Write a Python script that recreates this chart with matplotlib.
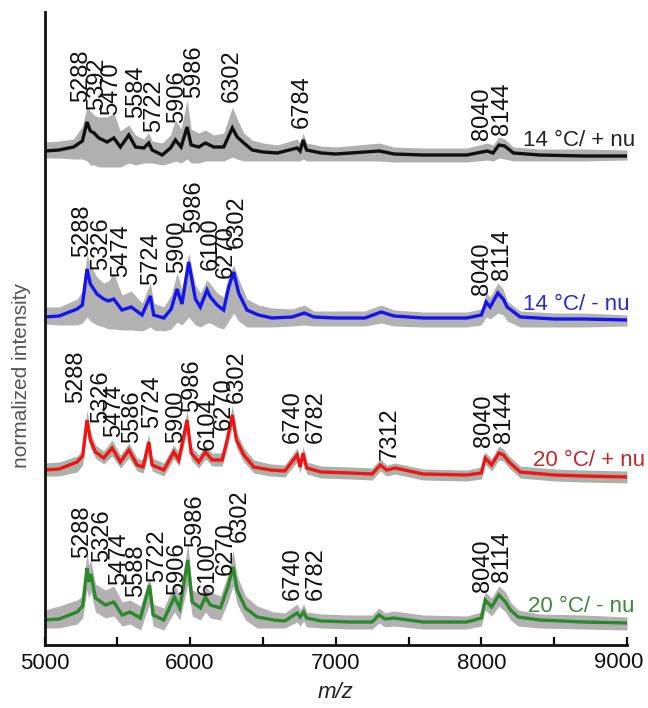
import matplotlib
matplotlib.use('Agg')
import matplotlib.pyplot as plt
from matplotlib.ticker import MultipleLocator

plt.rcParams['font.family'] = ['Liberation Sans', 'DejaVu Sans']

# -----------------------------------------------------------------------------
# 1. data (m/z, height above each trace's baseline)
# -----------------------------------------------------------------------------
black_mz = [5000, 5100, 5200, 5260, 5292, 5315, 5340, 5373, 5430, 5476,
            5521, 5579, 5625, 5682, 5716, 5739, 5808, 5865, 5899, 5938,
            5979, 6007, 6059, 6105, 6162, 6231, 6290, 6323, 6369, 6426,
            6500, 6600, 6735, 6755, 6776, 6800, 6900, 7000, 7300, 7400,
            7600, 7900, 8040, 8080, 8120, 8160, 8220, 8400, 8700, 9000]
black_int = [0, 1, 4, 10, 29, 20, 18, 13, 9, 13,
             4, 16, 4, 3, 8, 1, -4, 3, 11, 4,
             24, 6, 4, 8, 4, 4, 23, 14, 8, 1,
             -1, -2, 3, 0, 11, 1, -2, -3, 0, -3,
             -4, -4, 0, -2, 6, 5, -2, -4, -5, -5]
black_hi = [9, 10, 12, 25, 44, 40, 36, 34, 34, 38,
            20, 26, 16, 12, 18, 10, 8, 16, 31, 22,
            51, 22, 18, 21, 16, 18, 44, 32, 18, 11,
            8, 6, 12, 8, 18, 8, 5, 4, 8, 4,
            3, 3, 8, 6, 14, 12, 4, 2, 2, 1]
black_lo = [-7, -7, -8, -8, -10, -14, -14, -16, -16, -16,
            -16, -12, -14, -12, -12, -12, -14, -12, -10, -12,
            -8, -12, -12, -10, -10, -10, -6, -8, -10, -10,
            -10, -10, -10, -10, -8, -10, -10, -10, -10, -11,
            -11, -11, -9, -10, -7, -8, -10, -10, -10, -9]

blue_mz = [5000, 5100, 5224, 5260, 5292, 5315, 5360, 5406, 5440, 5475,
           5532, 5596, 5670, 5727, 5750, 5819, 5870, 5910, 5944, 5990,
           6036, 6070, 6116, 6139, 6185, 6230, 6265, 6299, 6333, 6390,
           6470, 6562, 6700, 6784, 6850, 7000, 7200, 7312, 7400, 7600,
           7900, 8000, 8033, 8060, 8113, 8150, 8177, 8267, 8500, 8700, 9000]
blue_int = [0, 1, 8, 12, 48, 33, 23, 18, 16, 18,
            7, 10, 2, 21, 2, -1, 8, 28, 13, 55,
            18, 10, 27, 20, 12, 7, 30, 45, 24, 7,
            2, -1, 0, 4, 0, -1, -1, 5, 1, -1,
            -1, 2, 15, 10, 24, 18, 10, 0, -2, -2, -3]
blue_hi = [10, 10, 18, 26, 63, 52, 40, 34, 36, 44,
           22, 26, 14, 34, 14, 10, 22, 44, 28, 64,
           32, 24, 37, 33, 24, 20, 42, 52, 38, 18,
           12, 9, 8, 12, 6, 6, 6, 12, 7, 5,
           5, 8, 24, 20, 34, 28, 16, 6, 4, 4, 2]
blue_lo = [-7, -8, -8, -6, 0, -4, -8, -10, -12, -12,
           -13, -13, -14, -10, -13, -14, -12, -5, -8, 0,
           -8, -10, -6, -6, -10, -12, -4, 4, -4, -10,
           -10, -10, -9, -8, -9, -9, -9, -6, -9, -10,
           -10, -8, 0, -2, 4, 2, -4, -10, -10, -10, -9]

red_mz = [5000, 5100, 5224, 5262, 5292, 5315, 5350, 5407, 5464, 5521,
          5579, 5636, 5677, 5716, 5739, 5819, 5888, 5922, 5979, 6007,
          6059, 6105, 6151, 6220, 6254, 6290, 6318, 6369, 6437, 6552,
          6650, 6735, 6755, 6776, 6800, 6900, 7100, 7250, 7306, 7350,
          7408, 7600, 7900, 8000, 8026, 8070, 8120, 8152, 8190, 8266,
          8500, 8700, 9000]
red_int = [0, 1, 8, 14, 50, 30, 18, 12, 22, 8,
           20, 5, 3, 28, 5, 0, 18, 10, 50, 17,
           8, 18, 10, 10, 30, 55, 30, 15, 3, 0,
           -1, 15, 3, 17, 2, -2, -3, -4, 5, 0,
           2, -4, -5, -3, 12, 5, 17, 15, 8, -2,
           -5, -6, -7]
red_hi = [7, 8, 14, 20, 60, 38, 25, 19, 30, 15,
          27, 12, 10, 36, 12, 7, 25, 17, 60, 24,
          15, 25, 17, 17, 38, 65, 38, 22, 10, 6,
          5, 22, 9, 24, 8, 4, 3, 2, 11, 5,
          7, 1, 0, 3, 18, 11, 24, 21, 14, 4,
          1, 0, -1]
red_lo = [-6, -6, -2, 5, 40, 22, 12, 6, 14, 2,
          12, -1, -3, 18, -1, -6, 11, 4, 38, 10,
          2, 11, 4, 4, 22, 44, 22, 8, -3, -6,
          -7, 8, -3, 10, -4, -8, -9, -10, -1, -6,
          -4, -10, -11, -9, 6, -1, 10, 9, 2, -8,
          -11, -12, -13]

green_mz = [5000, 5100, 5224, 5262, 5292, 5303, 5318, 5350, 5418, 5476,
            5533, 5586, 5659, 5721, 5746, 5819, 5892, 5929, 5984, 6014,
            6071, 6105, 6139, 6208, 6259, 6295, 6323, 6380, 6460, 6575,
            6650, 6735, 6755, 6780, 6800, 6900, 7100, 7250, 7296, 7340,
            7400, 7600, 7900, 8000, 8026, 8070, 8120, 8166, 8200, 8252,
            8400, 8700, 9000]
green_int = [0, 1, 8, 14, 52, 38, 46, 22, 15, 18,
             5, 8, 2, 35, 5, 0, 23, 12, 60, 18,
             12, 23, 15, 12, 33, 53, 30, 12, 3, 0,
             -1, 7, 3, 8, 2, -1, -2, -2, 5, 1,
             2, -2, -2, 2, 20, 13, 25, 18, 10, 3,
             0, -2, -3]
green_hi = [10, 14, 20, 24, 70, 55, 60, 36, 30, 34,
            18, 20, 14, 43, 16, 12, 36, 24, 77, 30,
            26, 34, 28, 24, 45, 70, 44, 24, 14, 8,
            7, 16, 10, 16, 8, 6, 5, 5, 12, 7,
            9, 5, 4, 8, 28, 22, 34, 28, 18, 10,
            6, 5, 3]
green_lo = [-8, -8, -4, 2, 30, 22, 28, 8, 2, 4,
            -6, -4, -10, 16, -6, -10, 8, 0, 36, 4,
            0, 8, 2, 0, 18, 34, 16, 0, -8, -8,
            -8, -2, -6, -1, -7, -8, -9, -9, -3, -7,
            -6, -9, -9, -6, 10, 4, 14, 8, 0, -6,
            -8, -9, -10]

# peak labels
black_peaks = ['5288', '5392', '5470', '5584', '5722', '5906', '5986', '6302',
               '6784', '8040', '8144']
blue_peaks = ['5288', '5326', '5474', '5724', '5900', '5986', '6100', '6270',
              '6302', '8040', '8114']
red_peaks = ['5288', '5326', '5474', '5586', '5724', '5900', '5986', '6104',
             '6270', '6302', '6740', '6782', '7312', '8040', '8144']
green_peaks = ['5288', '5326', '5474', '5588', '5722', '5906', '5986', '6100',
               '6270', '6302', '6740', '6782', '8040', '8114']

conditions = ['14 °C/ + nu', '14 °C/ - nu', '20 °C/ + nu', '20 °C/ - nu']
xticks = [5000, 6000, 7000, 8000, 9000]

# -----------------------------------------------------------------------------
# 2. layout (offsets, label placement) and styles
# -----------------------------------------------------------------------------
offsets = [494, 328, 175, 25]
line_colors = ['#101010', '#1414ee', '#f21414', '#2a8a2a']
gray_colors = ['#b0b0b0', '#b2b2b2', '#a9b2a9', '#b3afb3']
text_colors = ['#222222', '#2b2bd0', '#c0282a', '#3a8a3a']

black_lab_x = [5249, 5363, 5455, 5628, 5752, 5910, 6027, 6288, 6769, 8005, 8140]
black_lab_y = [543, 535, 530, 527, 513, 522, 547, 543, 517, 505, 510]
blue_lab_x = [5260, 5386, 5523, 5729, 5912, 6027, 6141, 6244, 6320, 8005, 8140]
blue_lab_y = [388, 375, 368, 360, 372, 412, 375, 367, 397, 350, 365]
red_lab_x = [5214, 5386, 5477, 5604, 5741, 5901, 6016, 6119, 6233, 6320,
             6703, 6863, 7373, 8018, 8156]
red_lab_y = [242, 222, 208, 202, 217, 202, 233, 195, 215, 242,
             202, 202, 185, 198, 202]
green_lab_x = [5260, 5395, 5512, 5626, 5771, 5912, 6034, 6119, 6244, 6343,
               6703, 6863, 8012, 8142]
green_lab_y = [87, 83, 60, 48, 63, 50, 98, 50, 70, 103, 45, 45, 53, 63]

cond_x = [8286, 8286, 8355, 8323]
cond_y = [505, 340, 185, 38]


def draw_trace(ax, mz, inten, hi, lo, off, lc, gc):
    ax.fill_between(mz, [off + v for v in lo], [off + v for v in hi],
                    color=gc, linewidth=0, zorder=1)
    ax.plot(mz, [off + v for v in inten], color=lc, lw=2.4, zorder=2,
            solid_joinstyle='miter')


def draw_labels(ax, names, xs, ys):
    for name, x, y in zip(names, xs, ys):
        ax.text(x, y, name, rotation=90, ha='center', va='bottom',
                fontsize=17, color='#111111', zorder=3)


# -----------------------------------------------------------------------------
# 3. figure
# -----------------------------------------------------------------------------
fig = plt.figure(figsize=(6.48, 7.08), dpi=100)
ax = fig.add_axes([44.5 / 648, 63 / 708, 582.5 / 648, 633 / 708])

traces = [
    (black_mz, black_int, black_hi, black_lo),
    (blue_mz, blue_int, blue_hi, blue_lo),
    (red_mz, red_int, red_hi, red_lo),
    (green_mz, green_int, green_hi, green_lo),
]
for i, (mz, inten, hi, lo) in enumerate(traces):
    draw_trace(ax, mz, inten, hi, lo, offsets[i], line_colors[i], gray_colors[i])
    ax.text(cond_x[i], cond_y[i], conditions[i], ha='left', va='center',
            fontsize=16, color=text_colors[i], zorder=3)

draw_labels(ax, black_peaks, black_lab_x, black_lab_y)
draw_labels(ax, blue_peaks, blue_lab_x, blue_lab_y)
draw_labels(ax, red_peaks, red_lab_x, red_lab_y)
draw_labels(ax, green_peaks, green_lab_x, green_lab_y)

ax.set_xlim(5000, 9000)
ax.set_ylim(0, 633)
ax.set_yticks([])
ax.set_xticks(xticks)
# last label drawn by hand, nudged left so it stays inside the canvas
ax.set_xticklabels([str(t) for t in xticks[:-1]] + [''])
ax.text(8940, -18, str(xticks[-1]), ha='center', va='center',
        fontsize=16, color='#111111', clip_on=False)
ax.xaxis.set_minor_locator(MultipleLocator(500))
ax.tick_params(axis='x', which='major', direction='in', length=6, width=1.6,
               labelsize=16, pad=6, colors='#111111')
ax.tick_params(axis='x', which='minor', direction='in', length=6, width=1.6)
for side in ['top', 'right']:
    ax.spines[side].set_visible(False)
for side in ['left', 'bottom']:
    ax.spines[side].set_linewidth(2)
    ax.spines[side].set_color('#111111')

fig.text(336 / 648, 1 - 692 / 708, 'm/z', ha='center', va='center',
         fontsize=16, style='italic', color='#222222')
fig.text(22 / 648, 1 - 376 / 708, 'normalized intensity', rotation=90,
         ha='center', va='center', fontsize=15, color='#555555')

plt.savefig('out.png', dpi=100)
